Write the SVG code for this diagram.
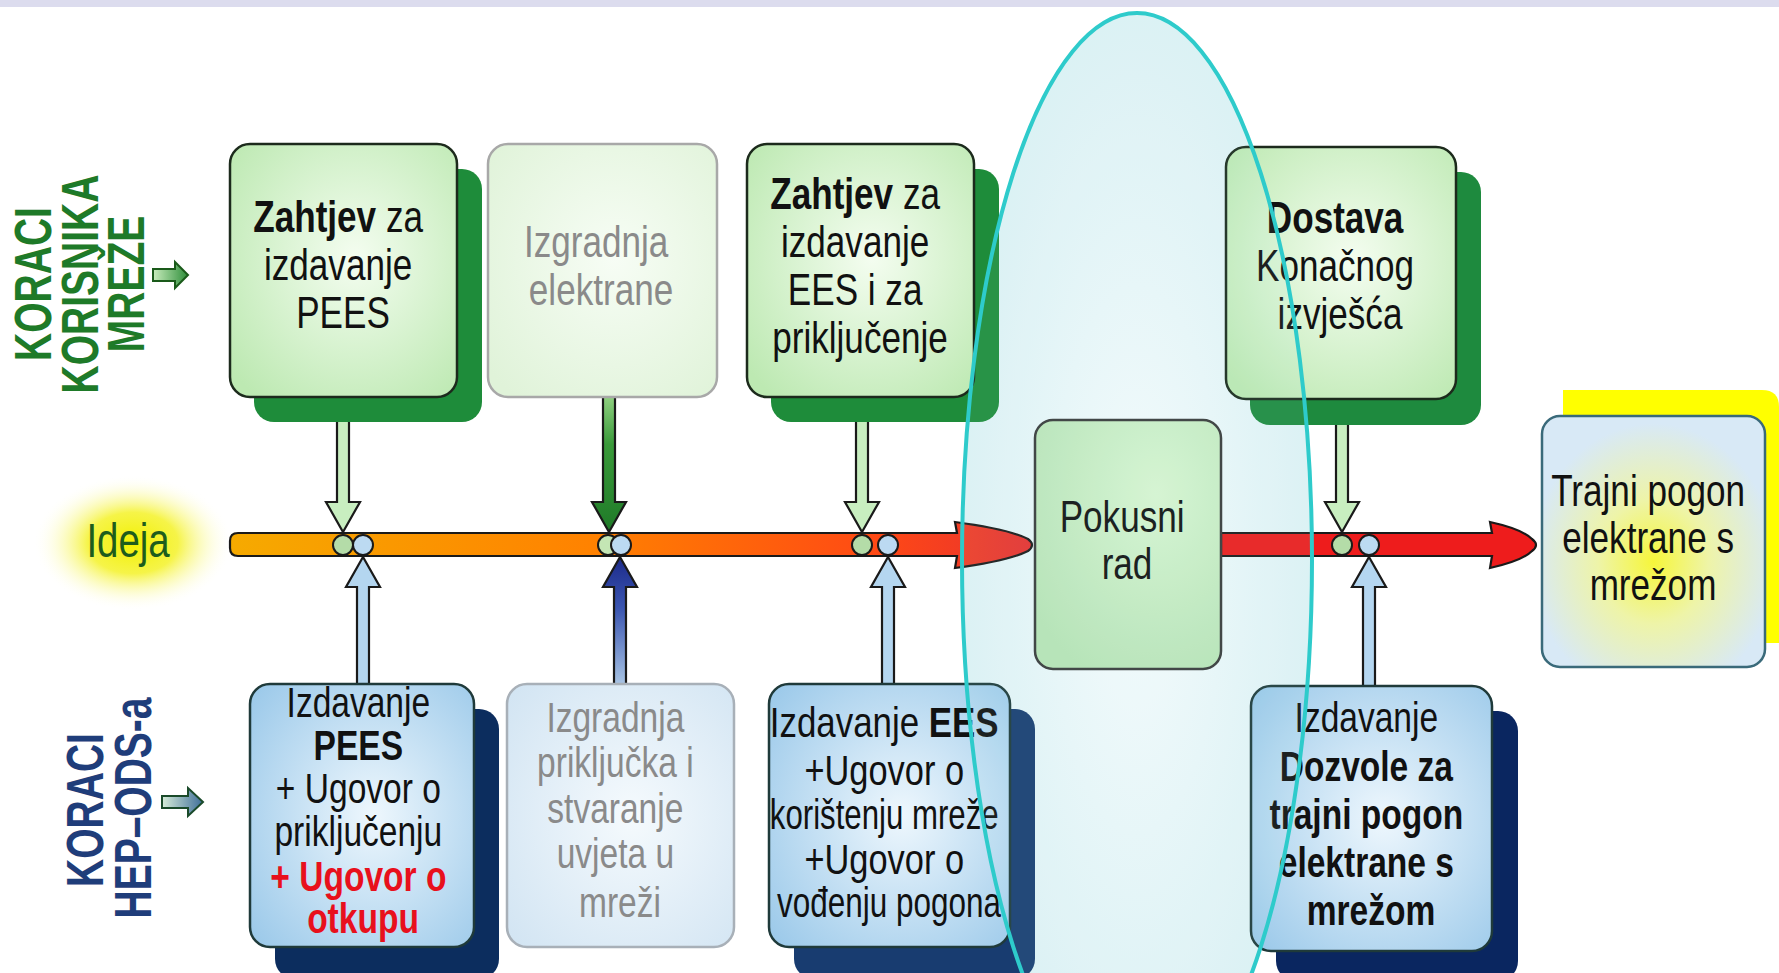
<svg xmlns="http://www.w3.org/2000/svg" width="1779" height="973" viewBox="0 0 1779 973">
  <defs>
    <style>
      .t { font-family: "Liberation Sans", Arial, sans-serif; text-anchor: middle; }
      .top { font-size: 45px; fill: #111; }
      .bot { font-size: 43px; fill: #111; }
      .fade { fill: #8a8a8a; }
      .b { font-weight: bold; }
      .red { fill: #e8101c; font-weight: bold; }
      .lab { font-family: "Liberation Sans", Arial, sans-serif; font-weight: bold; font-size: 52px; text-anchor: middle; }
      .edge { stroke: #1c2a1c; stroke-width: 2.5; }
      .arrowline { stroke: #1a1a1a; stroke-width: 2.2; stroke-linejoin: miter; }
      .dot { stroke: #1a1a1a; stroke-width: 2; }
    </style>
    <radialGradient id="gGreen" cx="55%" cy="45%" r="70%">
      <stop offset="0" stop-color="#f4fdf0"/>
      <stop offset="1" stop-color="#bde9b2"/>
    </radialGradient>
    <radialGradient id="gBlue" cx="55%" cy="50%" r="70%">
      <stop offset="0" stop-color="#eef7fd"/>
      <stop offset="1" stop-color="#9dcaea"/>
    </radialGradient>
    <radialGradient id="gFadeGreen" cx="55%" cy="45%" r="70%">
      <stop offset="0" stop-color="#f7fdf5"/>
      <stop offset="1" stop-color="#e0f3d9"/>
    </radialGradient>
    <radialGradient id="gFadeBlue" cx="55%" cy="50%" r="70%">
      <stop offset="0" stop-color="#f5fafd"/>
      <stop offset="1" stop-color="#d3e5f3"/>
    </radialGradient>
    <radialGradient id="gPokusni" cx="65%" cy="30%" r="80%">
      <stop offset="0" stop-color="#daf6d2"/>
      <stop offset="1" stop-color="#b9e4b6"/>
    </radialGradient>
    <radialGradient id="gTrajni" cx="50%" cy="58%" r="55%">
      <stop offset="0" stop-color="#f6f63a"/>
      <stop offset="0.45" stop-color="#eef4a8"/>
      <stop offset="1" stop-color="#d8e9f6"/>
    </radialGradient>
    <radialGradient id="gIdeja" cx="50%" cy="50%" r="50%">
      <stop offset="0" stop-color="#f2f000"/>
      <stop offset="0.45" stop-color="#f4f228" stop-opacity="0.85"/>
      <stop offset="1" stop-color="#ffffff" stop-opacity="0"/>
    </radialGradient>
    <radialGradient id="gOval" cx="50%" cy="50%" r="50%">
      <stop offset="0" stop-color="#fafdfe"/>
      <stop offset="1" stop-color="#e0f3f6"/>
    </radialGradient>
    <linearGradient id="gBar" gradientUnits="userSpaceOnUse" x1="230" y1="0" x2="1032" y2="0">
      <stop offset="0" stop-color="#f6aa00"/>
      <stop offset="0.45" stop-color="#ff8200"/>
      <stop offset="0.8" stop-color="#ff4a14"/>
      <stop offset="1" stop-color="#e83030"/>
    </linearGradient>
    <linearGradient id="gDarkGreen" x1="0" y1="0" x2="0" y2="1">
      <stop offset="0" stop-color="#8fd080"/>
      <stop offset="0.35" stop-color="#3a9a3a"/>
      <stop offset="1" stop-color="#1f7a28"/>
    </linearGradient>
    <linearGradient id="gNavy" x1="0" y1="0" x2="0" y2="1">
      <stop offset="0" stop-color="#1c2a8a"/>
      <stop offset="0.4" stop-color="#3a55b0"/>
      <stop offset="1" stop-color="#a8c4e4"/>
    </linearGradient>
    <linearGradient id="gSmallGreen" x1="0" y1="0" x2="1" y2="0">
      <stop offset="0" stop-color="#c8ecbc"/>
      <stop offset="1" stop-color="#2e8e3a"/>
    </linearGradient>
    <linearGradient id="gSmallBlue" x1="0" y1="0" x2="1" y2="0">
      <stop offset="0" stop-color="#d6ecd8"/>
      <stop offset="1" stop-color="#3e6e9a"/>
    </linearGradient>
  </defs>

  <!-- page background and header strip -->
  <rect x="0" y="0" width="1779" height="973" fill="#ffffff"/>
  <rect x="0" y="0" width="1779" height="7" fill="#dcdcee"/>

  <!-- trial-run oval: soft fill beneath the steps -->
  <ellipse id="oval-fill" cx="1137" cy="560" rx="175" ry="547" fill="url(#gOval)"/>

  <!-- side captions -->
  <g id="caption-user" fill="#1e7a28">
    <text class="lab" transform="translate(51,284) rotate(-90) scale(0.75,1)">KORACI</text>
    <text class="lab" transform="translate(98,284) rotate(-90) scale(0.75,1)">KORISNIKA</text>
    <text class="lab" transform="translate(144,284) rotate(-90) scale(0.75,1)">MREŽE</text>
    <path d="M153,269 H175 V262 L188,275 L175,288 V281 H153 Z" fill="url(#gSmallGreen)" stroke="#1a5a1a" stroke-width="2"/>
  </g>
  <g id="caption-operator" fill="#1f3d7a">
    <text class="lab" transform="translate(103,810) rotate(-90) scale(0.75,1)">KORACI</text>
    <text class="lab" transform="translate(151,808) rotate(-90) scale(0.75,1)">HEP–ODS-a</text>
    <path d="M162,796 H188 V788 L203,802 L188,816 V808 H162 Z" fill="url(#gSmallBlue)" stroke="#1a4a2a" stroke-width="2"/>
  </g>

  <!-- starting point -->
  <g id="ideja">
    <ellipse cx="133" cy="543" rx="100" ry="68" fill="url(#gIdeja)"/>
    <text class="t" transform="matrix(0.8 0 0 1 128 0)" y="557" font-size="48" fill="#1d5c1d">Ideja</text>
  </g>

  <!-- timeline and step connectors -->
  <g id="connectors">
    <path d="M238,533 H957 L955,522 Q1008,529 1028,539 Q1036,545 1028,551 Q1008,561 955,568 L957,556 H238 Q230,556 230,548 V541 Q230,533 238,533 Z" fill="url(#gBar)" class="arrowline"/>
    <path d="M1221,533 H1492 L1490,522 Q1522,529 1532,539 Q1540,545 1532,551 Q1522,561 1490,568 L1492,556 H1221 Z" fill="#ee1c1c" class="arrowline"/>

    <path d="M337,397 V502 H326 L343,532 L360,502 H349 V397 Z" fill="#c8eec0" class="arrowline"/>
    <path d="M603,397 V502 H592 L609,532 L626,502 H615 V397 Z" fill="url(#gDarkGreen)" class="arrowline"/>
    <path d="M856,397 V502 H845 L862,532 L879,502 H868 V397 Z" fill="#c8eec0" class="arrowline"/>
    <path d="M1336,399 V502 H1325 L1342,532 L1359,502 H1348 V399 Z" fill="#c8eec0" class="arrowline"/>

    <path d="M357,684 V587 H346 L363,557 L380,587 H369 V684 Z" fill="#b4d6f0" class="arrowline"/>
    <path d="M614,684 V587 H603 L620,557 L637,587 H626 V684 Z" fill="url(#gNavy)" class="arrowline"/>
    <path d="M882,684 V587 H871 L888,557 L905,587 H894 V684 Z" fill="#b4d6f0" class="arrowline"/>
    <path d="M1363,686 V587 H1352 L1369,557 L1386,587 H1375 V686 Z" fill="#b4d6f0" class="arrowline"/>

    <circle cx="343" cy="545" r="10" fill="#b4dca8" class="dot"/>
    <circle cx="363" cy="545" r="10" fill="#bcdaf2" class="dot"/>
    <circle cx="608" cy="545" r="10" fill="#c4e6b4" class="dot"/>
    <circle cx="621" cy="545" r="10" fill="#bcdaf2" class="dot"/>
    <circle cx="862" cy="545" r="10" fill="#b4dca8" class="dot"/>
    <circle cx="888" cy="545" r="10" fill="#bcdaf2" class="dot"/>
    <circle cx="1342" cy="545" r="10" fill="#b4dca8" class="dot"/>
    <circle cx="1369" cy="545" r="10" fill="#bcdaf2" class="dot"/>
  </g>

  <!-- user steps (top row) -->
  <g id="zahtjev-pees">
    <rect x="254" y="169" width="228" height="253" rx="20" fill="#1e8c3a"/>
    <rect x="230" y="144" width="227" height="253" rx="20" fill="url(#gGreen)" class="edge"/>
    <text class="t top" transform="matrix(0.78 0 0 1 343 0)">
      <tspan x="0" y="232"><tspan class="b">Zahtjev</tspan> za</tspan>
      <tspan x="0" y="280">izdavanje</tspan>
      <tspan x="0" y="328">PEES</tspan>
    </text>
  </g>

  <g id="izgradnja-elektrane">
    <rect x="488" y="144" width="229" height="253" rx="20" fill="url(#gFadeGreen)" stroke="#a8a8a8" stroke-width="2.5"/>
    <text class="t top fade" transform="matrix(0.78 0 0 1 601 0)">
      <tspan x="0" y="257">Izgradnja</tspan>
      <tspan x="0" y="305">elektrane</tspan>
    </text>
  </g>

  <g id="zahtjev-ees">
    <rect x="771" y="169" width="228" height="253" rx="20" fill="#1e8c3a"/>
    <rect x="747" y="144" width="227" height="253" rx="20" fill="url(#gGreen)" class="edge"/>
    <text class="t top" transform="matrix(0.78 0 0 1 860 0)">
      <tspan x="0" y="209"><tspan class="b">Zahtjev</tspan> za</tspan>
      <tspan x="0" y="257">izdavanje</tspan>
      <tspan x="0" y="305">EES i za</tspan>
      <tspan x="0" y="353">priključenje</tspan>
    </text>
  </g>

  <g id="dostava-izvjesca">
    <rect x="1250" y="172" width="231" height="253" rx="20" fill="#1e8a3e"/>
    <rect x="1226" y="147" width="230" height="252" rx="20" fill="url(#gGreen)" class="edge"/>
    <text class="t top" transform="matrix(0.78 0 0 1 1340 0)">
      <tspan x="0" y="233" class="b">Dostava</tspan>
      <tspan x="0" y="281">Konačnog</tspan>
      <tspan x="0" y="329">izvješća</tspan>
    </text>
  </g>

  <!-- trial run -->
  <g id="pokusni-rad">
    <rect x="1035" y="420" width="186" height="249" rx="18" fill="url(#gPokusni)" stroke="#3a3a3a" stroke-width="2.5"/>
    <text class="t top" transform="matrix(0.78 0 0 1 1127 0)" fill="#333">
      <tspan x="0" y="532">Pokusni</tspan>
      <tspan x="0" y="579">rad</tspan>
    </text>
  </g>

  <!-- final state -->
  <g id="trajni-pogon">
    <path d="M1563,390 H1762 Q1779,390 1779,407 V643 H1563 Z" fill="#ffff00"/>
    <rect x="1542" y="416" width="223" height="251" rx="18" fill="url(#gTrajni)" stroke="#3a6a7a" stroke-width="2.5"/>
    <text class="t top" transform="matrix(0.78 0 0 1 1653 0)">
      <tspan x="0" y="506">Trajni pogon</tspan>
      <tspan x="0" y="553">elektrane s</tspan>
      <tspan x="0" y="600">mrežom</tspan>
    </text>
  </g>

  <!-- operator steps (bottom row) -->
  <g id="izdavanje-pees">
    <rect x="275" y="709" width="224" height="270" rx="20" fill="#0c2d5e"/>
    <rect x="250" y="684" width="224" height="263" rx="20" fill="url(#gBlue)" stroke="#1f3a3a" stroke-width="2.5"/>
    <text class="t bot" transform="matrix(0.78 0 0 1 363 0)">
      <tspan x="0" y="717">Izdavanje</tspan>
      <tspan x="0" y="760" class="b">PEES</tspan>
      <tspan x="0" y="803">+ Ugovor o</tspan>
      <tspan x="0" y="846">priključenju</tspan>
      <tspan x="0" y="891" class="red">+ Ugovor o</tspan>
      <tspan x="0" y="933" class="red">otkupu</tspan>
    </text>
  </g>

  <g id="izgradnja-prikljucka">
    <rect x="507" y="684" width="227" height="263" rx="20" fill="url(#gFadeBlue)" stroke="#a8b0b8" stroke-width="2.5"/>
    <text class="t bot fade" transform="matrix(0.78 0 0 1 620 0)">
      <tspan x="0" y="732">Izgradnja</tspan>
      <tspan x="0" y="777">priključka i</tspan>
      <tspan x="0" y="823">stvaranje</tspan>
      <tspan x="0" y="868">uvjeta u</tspan>
      <tspan x="0" y="917">mreži</tspan>
    </text>
  </g>

  <g id="izdavanje-ees">
    <rect x="794" y="709" width="241" height="270" rx="20" fill="#183c70"/>
    <rect x="769" y="684" width="241" height="263" rx="20" fill="url(#gBlue)" stroke="#1f3a3a" stroke-width="2.5"/>
    <text class="t bot" transform="matrix(0.8 0 0 1 889 0)">
      <tspan x="0" y="737" textLength="286" lengthAdjust="spacingAndGlyphs">Izdavanje <tspan class="b">EES</tspan></tspan>
      <tspan x="0" y="785">+Ugovor o</tspan>
      <tspan x="0" y="829" textLength="286" lengthAdjust="spacingAndGlyphs">korištenju mreže</tspan>
      <tspan x="0" y="874">+Ugovor o</tspan>
      <tspan x="0" y="917" textLength="280" lengthAdjust="spacingAndGlyphs">vođenju pogona</tspan>
    </text>
  </g>

  <g id="izdavanje-dozvole">
    <rect x="1276" y="711" width="242" height="270" rx="20" fill="#0a2660"/>
    <rect x="1251" y="686" width="241" height="265" rx="20" fill="url(#gBlue)" stroke="#1f3a3a" stroke-width="2.5"/>
    <text class="t bot" transform="matrix(0.78 0 0 1 1371 0)">
      <tspan x="0" y="732">Izdavanje</tspan>
      <tspan x="0" y="781" class="b">Dozvole za</tspan>
      <tspan x="0" y="829" class="b">trajni pogon</tspan>
      <tspan x="0" y="877" class="b">elektrane s</tspan>
      <tspan x="0" y="925" class="b">mrežom</tspan>
    </text>
  </g>

  <!-- trial-run oval: light tint and outline over the steps -->
  <g id="oval">
    <ellipse cx="1137" cy="560" rx="175" ry="547" fill="#a8e2ea" fill-opacity="0.08"/>
    <ellipse cx="1137" cy="560" rx="175" ry="547" fill="none" stroke="#2ecbcb" stroke-width="4"/>
  </g>
</svg>
